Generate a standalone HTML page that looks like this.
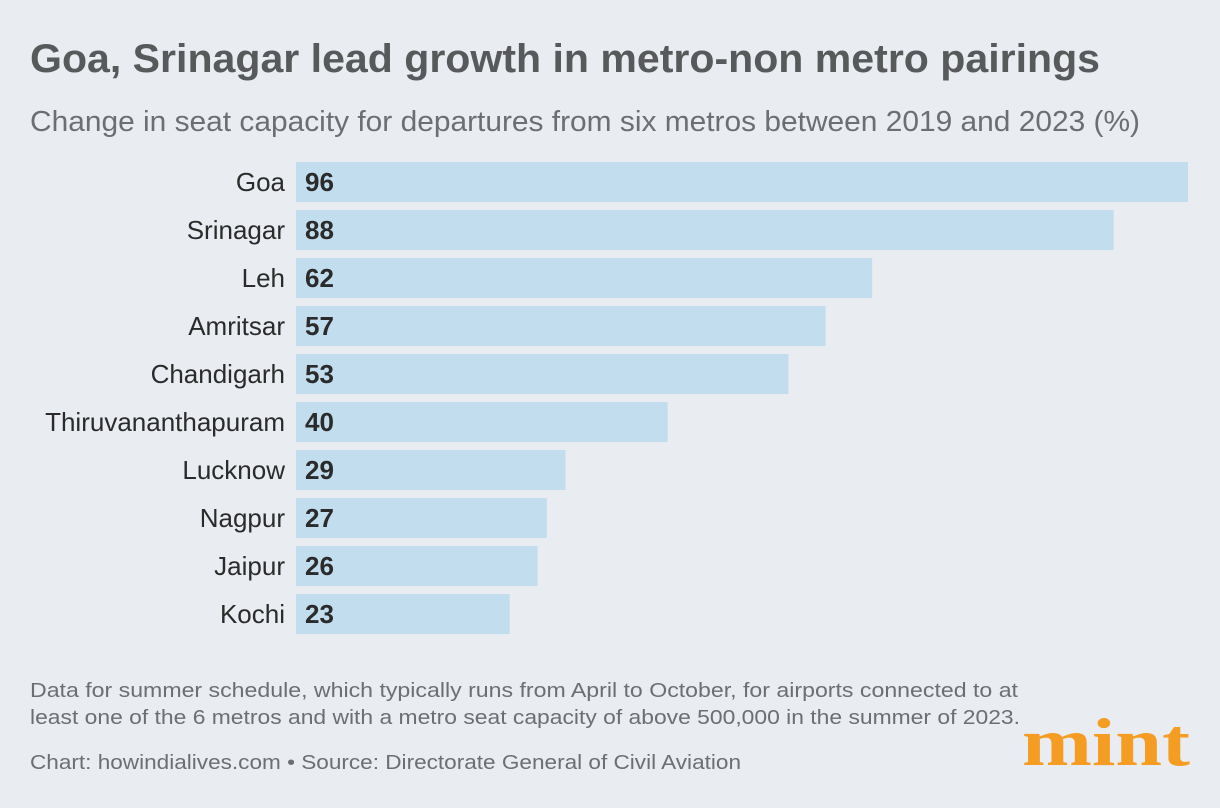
<!DOCTYPE html>
<html><head><meta charset="utf-8"><style>
html,body{margin:0;padding:0;background:#e9ecf1;}
svg{display:block;font-family:"Liberation Sans",sans-serif;}
</style></head><body>
<svg width="1220" height="808" viewBox="0 0 1220 808">
<rect width="1220" height="808" fill="#e9ecf1"/>
<text x="30" y="72" font-size="40" font-weight="bold" fill="#58595b" textLength="1070" lengthAdjust="spacingAndGlyphs">Goa, Srinagar lead growth in metro-non metro pairings</text>
<text x="30" y="131" font-size="29" fill="#6d6e71" textLength="1110" lengthAdjust="spacingAndGlyphs">Change in seat capacity for departures from six metros between 2019 and 2023 (%)</text>
<g id="bars"></g>
<text x="30" y="697" font-size="20" fill="#6d6e71" textLength="988" lengthAdjust="spacingAndGlyphs">Data for summer schedule, which typically runs from April to October, for airports connected to at</text>
<text x="30" y="724" font-size="20" fill="#6d6e71" textLength="990" lengthAdjust="spacingAndGlyphs">least one of the 6 metros and with a metro seat capacity of above 500,000 in the summer of 2023.</text>
<text x="30" y="769" font-size="20" fill="#6d6e71" textLength="711" lengthAdjust="spacingAndGlyphs">Chart: howindialives.com • Source: Directorate General of Civil Aviation</text>
<text x="1022" y="765" font-family="Liberation Serif,serif" font-size="68" font-weight="bold" fill="#f59c23" textLength="168" lengthAdjust="spacingAndGlyphs">mint</text>
</svg>
<script>
const categories=["Goa","Srinagar","Leh","Amritsar","Chandigarh","Thiruvananthapuram","Lucknow","Nagpur","Jaipur","Kochi"];
const values=[96,88,62,57,53,40,29,27,26,23];
const x0=296,x1=1188,maxV=96,top0=162,step=48,bh=40;
const xs=v=>x0+(x1-x0)*v/maxV;
const g=document.getElementById('bars');
const NS='http://www.w3.org/2000/svg';
categories.forEach((c,i)=>{
  const y=top0+i*step;
  const r=document.createElementNS(NS,'rect');
  r.setAttribute('x',x0);r.setAttribute('y',y);r.setAttribute('width',xs(values[i])-x0);r.setAttribute('height',bh);r.setAttribute('fill','#c2ddee');
  
  
  g.appendChild(r);
  const l=document.createElementNS(NS,'text');
  l.setAttribute('x',285);l.setAttribute('y',y+29);l.setAttribute('text-anchor','end');l.setAttribute('font-size','26');l.setAttribute('fill','#2b2b2b');
  l.textContent=c;
  
  
  g.appendChild(l);
  const v=document.createElementNS(NS,'text');
  v.setAttribute('x',305);v.setAttribute('y',y+29);v.setAttribute('font-size','26');v.setAttribute('font-weight','bold');v.setAttribute('fill','#2b2b2b');
  v.textContent=values[i];
  
  
  g.appendChild(v);
});
</script>
</body></html>
